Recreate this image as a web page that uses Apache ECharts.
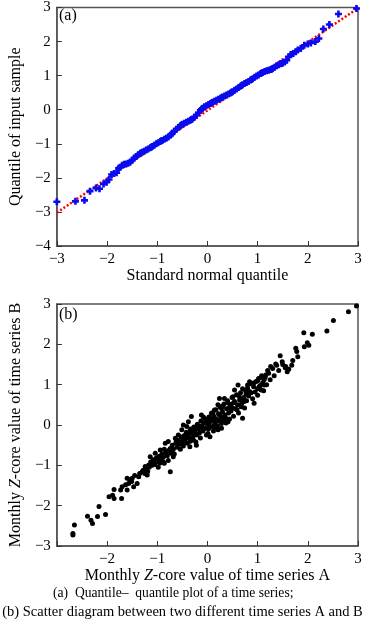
<!DOCTYPE html>
<html>
<head>
<meta charset="utf-8">
<script src="https://cdn.jsdelivr.net/npm/echarts@6/dist/echarts.min.js"></script>
<style>html,body{margin:0;padding:0;background:#fff}#c{width:365px;height:622px}</style>
</head>
<body>
<div id="c"></div>
<script>
// (a) Q-Q plot: [standard normal quantile, sample quantile]
var qqSample = [
[-3.00,-2.70],[-2.63,-2.69],[-2.45,-2.66],[-2.34,-2.39],[-2.22,-2.30],[-2.15,-2.32],[-2.07,-2.18],[-2.01,-2.13],
[-1.96,-2.05],[-1.91,-1.90],[-1.86,-1.87],[-1.81,-1.85],[-1.77,-1.72],[-1.74,-1.69],[-1.70,-1.63],[-1.66,-1.60],
[-1.62,-1.59],[-1.58,-1.57],[-1.54,-1.54],[-1.50,-1.48],[-1.46,-1.42],[-1.42,-1.37],[-1.38,-1.32],[-1.34,-1.28],
[-1.30,-1.25],[-1.26,-1.22],[-1.22,-1.18],[-1.18,-1.15],[-1.14,-1.12],[-1.10,-1.08],[-1.06,-1.04],[-1.02,-1.00],
[-0.98,-0.97],[-0.94,-0.93],[-0.90,-0.90],[-0.86,-0.87],[-0.82,-0.84],[-0.78,-0.80],[-0.74,-0.75],[-0.70,-0.69],
[-0.66,-0.63],[-0.62,-0.57],[-0.58,-0.52],[-0.54,-0.47],[-0.50,-0.43],[-0.46,-0.40],[-0.42,-0.37],[-0.38,-0.34],
[-0.34,-0.31],[-0.30,-0.27],[-0.26,-0.22],[-0.22,-0.16],[-0.18,-0.09],[-0.14,-0.02],[-0.10,0.04],[-0.06,0.09],
[-0.02,0.12],[0.02,0.15],[0.06,0.18],[0.10,0.22],[0.14,0.25],[0.18,0.28],[0.22,0.31],[0.26,0.34],[0.30,0.37],
[0.34,0.40],[0.38,0.43],[0.42,0.46],[0.46,0.49],[0.50,0.53],[0.54,0.57],[0.58,0.61],[0.62,0.65],[0.66,0.69],
[0.70,0.73],[0.74,0.77],[0.78,0.80],[0.82,0.83],[0.86,0.87],[0.90,0.91],[0.94,0.95],[0.98,0.99],[1.02,1.02],
[1.06,1.06],[1.10,1.09],[1.14,1.12],[1.18,1.14],[1.22,1.16],[1.26,1.18],[1.30,1.21],[1.34,1.25],[1.38,1.29],
[1.42,1.32],[1.46,1.35],[1.50,1.37],[1.54,1.40],[1.58,1.45],[1.62,1.55],[1.66,1.62],[1.71,1.65],[1.76,1.70],
[1.80,1.75],[1.86,1.80],[1.93,1.89],[2.00,1.93],[2.06,1.96],[2.15,2.00],[2.22,2.09],[2.31,2.37],[2.43,2.50],
[2.61,2.81],[2.97,2.97],
[-1.32,-1.27],[-1.12,-1.10],[-0.92,-0.91],[-0.72,-0.72],[-0.52,-0.45],[-0.32,-0.29],[-0.12,0.01],[0.08,0.20],
[0.28,0.35],[0.48,0.51],[0.68,0.71],[0.88,0.89],[1.08,1.08],[1.28,1.19],[1.48,1.36]
];
var qqRefLine = [[-3,-3.02],[3,2.98]];

// (b) scatter: [Z-score A, Z-score B]
var scatterAB = [
[2.97,2.95],[2.81,2.81],[2.51,2.59],[2.38,2.33],[1.92,2.29],[2.09,2.25],[1.99,2.04],[1.93,1.94],[2.02,1.98],
[1.76,1.90],[1.78,1.82],[1.80,1.69],[1.45,1.72],[1.49,1.57],[1.36,1.51],[1.56,1.45],[1.62,1.38],[1.59,1.32],
[1.26,1.45],[1.20,1.35],[1.16,1.24],[1.13,1.12],[1.07,1.18],[1.00,1.10],[0.93,1.05],[0.84,1.07],[0.80,0.99],
[1.13,0.99],[1.03,0.95],[1.07,0.87],[1.00,0.74],[0.93,0.54],[0.84,0.83],[0.77,0.77],[0.70,0.64],[0.61,0.99],
[0.54,0.87],[0.51,0.70],[0.67,0.45],[0.70,0.17],[0.47,0.50],[0.41,0.55],[0.34,0.66],[0.24,0.66],[0.21,0.50],
[0.28,0.41],[0.14,0.37],[0.08,0.29],[-0.12,0.25],[0.05,0.17],[-0.02,0.08],[0.14,0.00],[0.28,0.04],[0.41,0.08],
[0.21,-0.12],[0.01,-0.21],[0.05,-0.29],[-0.09,-0.12],[-0.18,-0.04],[-0.32,0.21],[-0.38,0.08],[-0.41,-0.04],
[-0.48,0.00],[-0.51,-0.12],[-0.58,-0.25],[-0.64,-0.33],[-0.38,-0.29],[-0.28,-0.37],[-0.25,-0.21],[-0.22,-0.50],
[-0.35,-0.54],[-0.48,-0.45],[-0.78,-0.41],[-0.84,-0.45],[-0.74,-0.58],[-0.68,-0.79],[-0.81,-0.66],[-0.94,-0.62],
[-1.04,-0.70],[-0.97,-0.79],[-0.88,-0.91],[-0.91,-0.74],[-0.74,-1.16],[-1.14,-0.79],[-1.17,-0.99],[-1.07,-0.95],
[-1.24,-1.03],[-1.30,-1.16],[-1.20,-1.24],[-1.37,-1.28],[-1.40,-1.45],[-1.47,-1.53],[-1.57,-1.45],[-1.60,-1.32],
[-1.51,-1.40],[-1.60,-1.61],[-1.70,-1.53],[-1.73,-1.61],[-1.86,-1.60],[-1.71,-1.82],[-1.89,-1.74],[-1.96,-1.78],
[-1.86,-1.82],[-2.03,-2.22],[-2.16,-2.02],[-2.19,-2.27],[-2.32,-2.36],[-2.29,-2.44],[-2.39,-2.26],[-2.65,-2.48],
[-2.68,-2.69],[-2.68,-2.73],
[-1.63,-1.48],[-1.55,-1.36],[-1.50,-1.32],[-1.45,-1.25],[-1.35,-1.20],[-1.28,-1.12],[-1.25,-1.20],[-1.22,-1.08],
[-1.19,-1.15],[-1.16,-1.05],[-1.13,-0.92],[-1.10,-1.00],[-1.08,-0.86],[-1.05,-0.98],[-1.02,-0.82],[-1.00,-0.90],
[-0.98,-1.05],[-0.96,-0.78],[-0.93,-0.86],[-0.90,-0.72],[-0.88,-0.80],[-0.86,-0.95],[-0.83,-0.68],[-0.80,-0.76],
[-0.78,-0.88],[-0.76,-0.62],[-0.73,-0.70],[-0.70,-0.50],[-0.68,-0.60],[-0.66,-0.72],[-0.63,-0.45],[-0.60,-0.55],
[-0.58,-0.38],[-0.56,-0.48],[-0.54,-0.60],[-0.52,-0.30],[-0.50,-0.40],[-0.48,-0.52],[-0.46,-0.26],[-0.44,-0.36],
[-0.42,-0.18],[-0.40,-0.45],[-0.38,-0.22],[-0.36,-0.32],[-0.34,-0.40],[-0.33,-0.10],[-0.31,-0.20],[-0.29,-0.30],
[-0.27,-0.05],[-0.25,-0.14],[-0.23,-0.42],[-0.21,-0.25],[-0.20,0.02],[-0.18,-0.10],[-0.16,-0.20],[-0.14,-0.32],
[-0.13,0.10],[-0.11,-0.02],[-0.09,-0.15],[-0.07,0.05],[-0.05,-0.08],[-0.04,0.15],[-0.02,-0.25],[0.00,0.02],
[0.02,-0.10],[0.03,0.20],[0.05,0.08],[0.07,-0.05],[0.09,0.30],[0.10,0.12],[0.12,-0.15],[0.13,0.22],[0.15,0.05],
[0.17,0.38],[0.18,0.15],[0.20,-0.02],[0.22,0.28],[0.23,0.10],[0.25,0.45],[0.27,0.20],[0.28,-0.08],[0.30,0.32],
[0.32,0.12],[0.33,0.52],[0.35,0.25],[0.37,0.05],[0.38,0.40],[0.40,0.60],[0.42,0.30],[0.44,0.15],[0.45,0.50],
[0.47,0.35],[0.49,0.68],[0.50,0.42],[0.52,0.22],[0.54,0.58],[0.56,0.40],[0.58,0.75],[0.60,0.50],[0.62,0.30],
[0.64,0.62],[0.66,0.80],[0.68,0.52],[0.70,0.90],[0.72,0.68],[0.74,0.42],[0.76,0.85],[0.78,0.60],[0.80,0.92],
[0.82,0.72],[0.85,1.02],[0.87,0.80],[0.90,0.65],[0.92,0.95],[0.95,0.82],[0.97,1.08],[1.00,0.90],[1.02,1.15],
[1.05,0.98],[1.08,1.22],[1.10,1.05],[1.12,0.85],[1.15,1.18],[1.18,1.00],[1.22,1.28],[1.25,1.12],[1.30,1.40],
[1.33,1.22],[1.38,1.48],[1.42,1.35],[1.50,1.50],[1.55,1.42],[1.68,1.48],[1.70,1.60],
[-0.45,-0.30],[-0.35,-0.15],[-0.30,-0.35],[-0.15,-0.05],[-0.08,0.20],[0.04,-0.02],[0.11,0.30],[0.16,-0.06],
[0.24,0.25],[0.31,0.48],[0.36,0.18],[0.43,0.42],[0.52,0.55],[0.59,0.38],[0.63,0.72],[0.73,0.58],[0.79,0.78],
[-0.62,-0.40],[-0.70,-0.62],[-0.86,-0.60],[-0.95,-0.95],[-1.03,-0.92]
];

var FONT = 'Liberation Serif';
function minus(v){ return String(v).replace('-', '\u2212'); }

var chart = echarts.init(document.getElementById('c'), null, {renderer:'canvas'});
var axisCommon = {
  type: 'value',
  interval: 1,
  splitLine: {show:false},
  axisLine: {show:true, onZero:false, lineStyle:{color:'#555', width:1.5}},
  axisTick: {show:true, inside:true, length:5, lineStyle:{color:'#333', width:1}},
  axisLabel: {color:'#000', fontFamily:FONT, fontSize:15, formatter: minus},
  nameLocation: 'middle',
  nameTextStyle: {color:'#000', fontFamily:FONT, fontSize:16,
    rich:{i:{fontStyle:'italic', fontFamily:FONT, fontSize:16, color:'#000'}}}
};
function ax(extra){ return Object.assign({}, JSON.parse(JSON.stringify(axisCommon)), extra, {axisLabel: Object.assign({}, axisCommon.axisLabel, extra.axisLabel||{}) }); }

chart.setOption({
  animation: false,
  grid: [
    {left:53, top:5, width:305, height:241, show:true, borderColor:'#555', borderWidth:1.5, containLabel:false},
    {left:54, top:304, width:304, height:242, show:true, borderColor:'#555', borderWidth:1.5, containLabel:false}
  ],
  xAxis: [
    ax({gridIndex:0, min:-3, max:3, name:'Standard normal quantile', nameGap:22, axisLabel:{margin:6}}),
    ax({gridIndex:1, min:-3, max:3, name:'Monthly {i|Z}-core value of time series A', nameGap:21,
        axisLabel:{margin:6, formatter:function(v){ return v === -3 ? '' : minus(v); }}})
  ],
  yAxis: [
    ax({gridIndex:0, min:-4, max:3, name:'Quantile of input sample', nameGap:26, axisLabel:{margin:6}}),
    ax({gridIndex:1, min:-3, max:3, name:'Monthly {i|Z}-core value of time series B', nameGap:26, axisLabel:{margin:6}})
  ],
  series: [
    {type:'line', xAxisIndex:0, yAxisIndex:0, data:qqRefLine, symbol:'none', z:1,
     lineStyle:{color:'#ff0000', width:2.5, type:[2,2], cap:'butt'}},
    {type:'scatter', xAxisIndex:0, yAxisIndex:0, data:qqSample, z:2,
     symbol:'path://M2.5,0H5.5V2.5H8V5.5H5.5V8H2.5V5.5H0V2.5H2.5Z', symbolSize:7,
     itemStyle:{color:'#0a0af0', opacity:1}},
    {type:'scatter', xAxisIndex:1, yAxisIndex:1, data:scatterAB, symbol:'circle', symbolSize:5,
     itemStyle:{color:'#000', opacity:1}}
  ],
  graphic: [
    {type:'text', left:59, top:8, style:{text:'(a)', font:'16px "Liberation Serif"', fill:'#000'}},
    {type:'text', left:59, top:307, style:{text:'(b)', font:'16px "Liberation Serif"', fill:'#000'}},
    {type:'text', left:53, top:586, style:{text:'(a)  Quantile\u2013  quantile plot of a time series;', font:'13.6px "Liberation Serif"', fill:'#000'}},
    {type:'text', left:'center', top:605, style:{text:'(b) Scatter diagram between two different time series A and B', font:'14.5px "Liberation Serif"', fill:'#000'}}
  ]
});
</script>
</body>
</html>
